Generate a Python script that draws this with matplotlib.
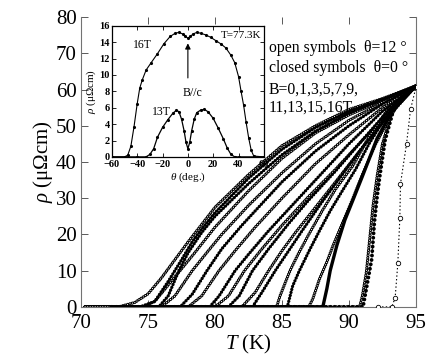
import matplotlib
matplotlib.use('Agg')
import matplotlib.pyplot as plt

plt.rcParams['font.family'] = ['Liberation Serif', 'DejaVu Serif']
plt.rcParams['mathtext.fontset'] = 'custom'
plt.rcParams['mathtext.rm'] = 'Liberation Serif'
plt.rcParams['mathtext.it'] = 'Liberation Serif:italic'
plt.rcParams['lines.scale_dashes'] = False

# main panel: rho(T) curves, open = theta 12 deg, closed = theta 0 deg
open_curves = {
    16: ([70.3, 72.8, 74, 75, 76, 77, 78, 80, 82.5, 85, 87.5, 90, 92.5, 95],
         [0, 0, 1.2, 3.6, 8, 13, 18, 27.5, 36.5, 44.5, 50, 54.5, 57.5, 61]),
    15: ([70.3, 74.6, 75.5, 76.5, 77.5, 78.5, 80, 82.5, 85, 87.5, 90, 92.5, 95],
         [0, 0, 1.5, 6, 10.5, 15, 22, 32, 41, 48, 53, 57, 61]),
    13: ([70.3, 76, 77, 78.3, 79.5, 80.5, 82.5, 85, 87.5, 90, 92.5, 95],
         [0, 0, 3, 10, 15.5, 20, 28, 37, 45, 51.5, 56.5, 61]),
    11: ([70.3, 78, 79, 80.3, 81.5, 83, 85, 87.5, 90, 92.5, 95],
         [0, 0, 3, 10, 15.5, 22, 30, 39.5, 47.5, 55, 61]),
    9: ([70.3, 80, 81, 82.2, 83.5, 85, 87, 89, 91, 93, 95],
        [0, 0, 3, 10, 16, 22.5, 30.5, 38, 46, 54, 61]),
    7: ([70.3, 82, 83, 84, 85, 86, 87.5, 89, 91, 93, 95],
        [0, 0, 4, 10, 15.5, 20.5, 27.5, 34.5, 44, 53.5, 61]),
    5: ([70.3, 84.6, 84.85, 85.6, 86.2, 87, 88, 89, 90.3, 91.5, 93, 95],
        [0, 0, 3, 10, 14.5, 20, 26.5, 32.5, 39, 47, 55, 61]),
    3: ([70.3, 87, 87.3, 87.8, 88.35, 88.8, 89.5, 90.3, 91, 92, 93.3, 95],
        [0, 0, 2.2, 7.7, 12.4, 16.8, 23, 30, 36.5, 45, 54, 61]),
    1: ([70.3, 90.8, 91, 91.3, 91.6, 91.8, 92.1, 92.5, 93.1, 94, 95],
        [0, 0, 3, 9.6, 20.6, 28, 36, 45, 52.5, 58, 61]),
    0: ([92.2, 93.2, 93.45, 93.65, 93.8, 93.85, 94.3, 94.6, 95],
        [0, 0, 2.5, 12, 24.5, 34, 45, 54.5, 60.6]),
}
closed_curves = {
    16: ([72.3, 74.4, 75.5, 76.5, 77.5, 78.3, 79, 80, 82.5, 85, 87.5, 90, 92.5, 95],
         [0, 0, 1.5, 7, 13, 18, 21.5, 26, 35.5, 43.5, 49.5, 54, 57.3, 61]),
    15: ([72.3, 75.8, 76.5, 77.3, 78, 79, 80, 82.5, 85, 87.5, 90, 92.5, 95],
         [0, 0, 3, 10, 15, 20.5, 25, 34, 42, 48.5, 53.5, 57.2, 61]),
    13: ([72.3, 77.4, 78.3, 79.4, 80.5, 82, 83.5, 85, 87.5, 90, 92.5, 95],
         [0, 0, 3.5, 10, 16, 22.5, 28.5, 34.5, 43, 50, 56, 61]),
    11: ([72.3, 79.6, 80.3, 81.5, 82.5, 84, 86, 88, 90, 92.5, 95],
         [0, 0, 3, 10, 14.5, 21, 29, 37, 45, 54, 61]),
    9: ([72.3, 81, 81.8, 82.8, 84, 85.5, 87, 89, 91, 93, 95],
        [0, 0, 3, 10, 16, 23, 29.5, 37.5, 46, 54.5, 61]),
    7: ([72.3, 82.8, 83.5, 84.5, 85.5, 86.5, 88, 89.5, 91, 93, 95],
        [0, 0, 4, 10, 15.5, 21, 29, 36.5, 44, 53, 61]),
    5: ([72.3, 85.4, 85.8, 86.3, 87.1, 87.8, 88.6, 89.5, 90.5, 91.5, 92.5, 93.5, 95],
        [0, 0, 5.8, 10, 16, 21, 26.5, 32, 38, 45, 51, 56, 61]),
    3: ([72.3, 88.05, 88.35, 88.6, 89.1, 89.7, 90.3, 91, 92.1, 93.3, 95],
        [0, 0, 5, 10, 17, 24, 29.5, 36, 46.5, 54.5, 61]),
    1: ([72.3, 91.05, 91.3, 91.7, 91.9, 92.1, 92.3, 92.7, 93.3, 94, 95],
        [0, 0, 5, 13.2, 23.4, 30.3, 36, 46, 54, 58, 61]),
}

# inset: rho(theta) at T = 77.3 K
theta_16 = [-60, -50, -47.5, -45, -42.5, -40, -38, -36, -33, -29, -24, -19, -14, -10, -7, -4,
            -2, 0, 2, 4, 7, 10, 14, 18, 22, 26, 30, 34, 37, 40, 42, 44, 46, 48, 50, 52, 60]
rho_16 = [0, 0, 0.2, 1.3, 3.7, 6.5, 8.4, 9.4, 10.6, 11.5, 12.6, 13.8, 14.7, 15.1, 15.2, 15.0,
          14.7, 14.5, 14.7, 15.0, 15.2, 15.1, 14.9, 14.6, 14.2, 13.8, 13.3, 12.4, 11.5, 9.8,
          8.0, 6.3, 4.2, 2.3, 0.8, 0.1, 0]
theta_13 = [-60, -40, -33, -30, -27, -24, -20, -16, -12, -9, -7, -5, -3, -1.5, 0, 1.5, 3, 5,
            7, 10, 13, 16, 20, 24, 28, 31, 34, 37, 40, 60]
rho_13 = [0, 0, 0, 0.3, 1, 2.4, 3.6, 4.5, 5.3, 5.7, 5.5, 4.6, 3.2, 1.8, 1.0, 1.8, 3.2, 4.6,
          5.4, 5.7, 5.8, 5.5, 4.7, 3.5, 2.2, 1.1, 0.3, 0, 0, 0]

fig = plt.figure(figsize=(4.27, 3.64), dpi=100)
ax = fig.add_axes([0.190, 0.157, 0.784, 0.796])

for B, (T, r) in open_curves.items():
    if B == 0:
        ax.plot(T, r, color='black', ls=':', lw=0.8, marker='o', ms=3.2,
                mfc='white', mec='black', mew=0.6, zorder=3)
        continue
    ax.plot(T, r, color='black', lw=2.3, ls=(0, (0.01, 1.8)),
            dash_capstyle='round', zorder=2)
    ax.plot(T, r, color='white', lw=0.9, ls=(0, (0.01, 1.8)),
            dash_capstyle='round', zorder=2)

for B, (T, r) in closed_curves.items():
    if B == 3:
        ax.plot(T, r, color='black', lw=2.4, solid_capstyle='round', zorder=3)
    elif B == 1:
        ax.plot(T, r, color='black', ls=':', lw=0.8, zorder=3)
        ax.plot(T, r, color='black', lw=2.8, ls=(0, (0.01, 3.2)),
                dash_capstyle='round', zorder=3)
    else:
        ax.plot(T, r, color='black', lw=2.4, ls=(0, (0.01, 2.2)),
                dash_capstyle='round', zorder=3)

ax.set_xlim(70, 95)
ax.set_ylim(0, 80)
ax.set_xticks([70, 75, 80, 85, 90, 95])
ax.set_yticks(range(0, 81, 10))
ax.tick_params(direction='in', labelsize=15, length=5, width=0.7, color='0.35',
               top=True, right=True)
ax.tick_params(axis='y', pad=3)
ax.tick_params(axis='x', pad=5)
ax.spines['top'].set_visible(False)
for s in ['left', 'bottom', 'right']:
    ax.spines[s].set_color('0.45')
    ax.spines[s].set_linewidth(0.8)
ax.set_xlabel('$T$ (K)', fontsize=15, labelpad=0)
ax.set_ylabel(r'$\rho$ (μΩcm)', fontsize=15, labelpad=1)

legend_lines = ['open symbols  θ=12 °', 'closed symbols  θ=0 °',
                'B=0,1,3,5,7,9,', '11,13,15,16T']
for txt, yy in zip(legend_lines, [0.894, 0.826, 0.750, 0.688]):
    ax.text(0.560, yy, txt, transform=ax.transAxes, fontsize=11.3,
            va='center', ha='left')

# inset
ins = fig.add_axes([0.262, 0.569, 0.356, 0.360])
ins.plot(theta_16, rho_16, color='black', lw=0.8, marker='.', ms=2.5)
ins.plot(theta_13, rho_13, color='black', lw=0.9, marker='.', ms=2.5)
ins.set_xlim(-60, 60)
ins.set_ylim(0, 16)
ins.set_xticks(range(-60, 61, 20))
ins.set_yticks(range(0, 17, 2))
ins.tick_params(direction='in', labelsize=7.5, length=3, width=0.6, top=True, right=True)
ins.tick_params(axis='x', pad=2.5)
ins.tick_params(axis='y', pad=1.5)
for lab in ins.get_xticklabels() + ins.get_yticklabels():
    lab.set_fontweight('bold')
for s in ins.spines.values():
    s.set_linewidth(0.9)
ins.set_xlabel(r'$\theta$ (deg.)', fontsize=8, labelpad=1)
ins.set_ylabel(r'$\rho$ (μΩcm)', fontsize=8, labelpad=1)
ins.text(-36, 13.7, '16T', fontsize=8.5, ha='center', va='center')
ins.text(-21, 5.5, '13T', fontsize=8.5, ha='center', va='center')
ins.text(4, 7.8, 'B//c', fontsize=8.5, ha='center', va='center')
ins.text(58, 14.8, 'T=77.3K', fontsize=8, ha='right', va='center')
ins.annotate('', xy=(0, 14.2), xytext=(0, 9.3),
             arrowprops=dict(arrowstyle='-|>', color='black', lw=0.8, mutation_scale=8))

fig.savefig('out.png', dpi=100)
